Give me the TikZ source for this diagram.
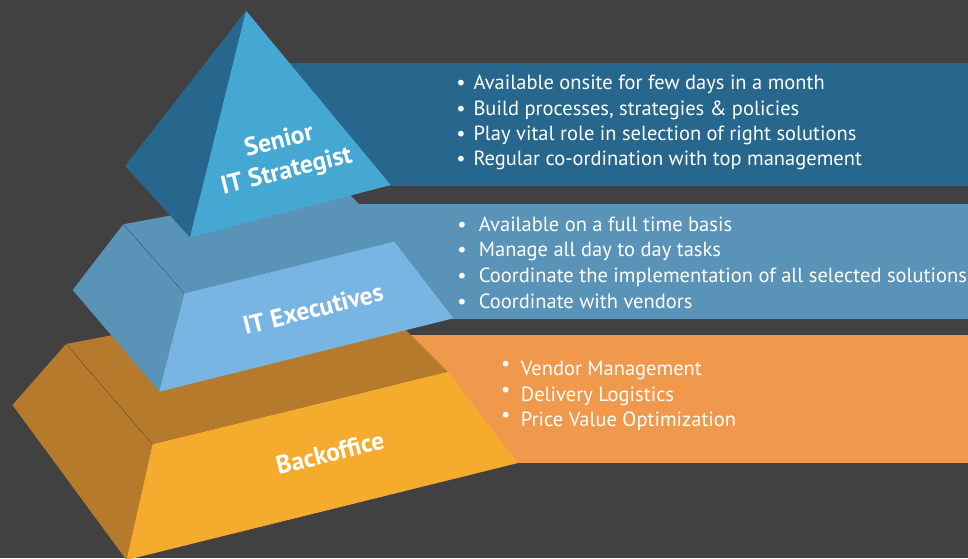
\documentclass[tikz,border=0pt]{standalone}
\usepackage{fontspec}
\setmainfont{PT Sans}
\definecolor{bg}{HTML}{414141}
\definecolor{dblue}{HTML}{27678D}
\definecolor{lblue}{HTML}{45A8D3}
\definecolor{mblue}{HTML}{5A93B8}
\definecolor{sblue}{HTML}{79B5E2}
\definecolor{brown}{HTML}{B57A2C}
\definecolor{yell}{HTML}{F5AC2E}
\definecolor{orng}{HTML}{F0994C}
\begin{document}
\begin{tikzpicture}[x=1pt,y=-1pt,
  lbl/.style={text=white,font=\fontsize{25.5}{31}\selectfont\bfseries,rotate=14,align=center,inner sep=0pt},
  item/.style={text=white,font=\fontsize{20.5}{25}\selectfont,anchor=base west,inner sep=0pt},
  dot/.style={text=white,font=\fontsize{20.5}{25}\selectfont,anchor=base,inner sep=0pt},
  ridge/.style={draw=black,draw opacity=0.35,line width=0.4pt}]
\useasboundingbox (0,0) rectangle (968,558);
\clip (0,0) rectangle (968,558);
\fill[bg] (0,0) rectangle (968,558);

% ---------- bottom tier ----------
\coordinate (bBL) at (66,344);
\coordinate (bBR) at (363,287);
\coordinate (bFR) at (448,372);
\coordinate (bFL) at (152.5,444.3);
\coordinate (bOut) at (12.5,405);
\coordinate (bBot) at (126.5,560);
\coordinate (bBotR) at (518,463);
\fill[orng] (380,335) rectangle (968,463);
\fill[brown] (bBL) -- (bBR) -- (bFR) -- (bFL) -- cycle;
\fill[brown] (bBL) -- (bOut) -- (bBot) -- (bFL) -- cycle;
\fill[yell] (bFL) -- (bBot) -- (bBotR) -- (bFR) -- cycle;
\draw[ridge] (bBL) -- (bFL);

% ---------- middle tier ----------
\coordinate (mBL) at (123.3,224.3);
\coordinate (mBR) at (340,184);
\coordinate (mFR) at (394.3,241.7);
\coordinate (mFL) at (184.3,293.3);
\coordinate (mOut) at (72.7,290);
\coordinate (mBot) at (159.3,391.7);
\coordinate (mBotR) at (453.3,318.3);
\fill[mblue] (300,203.5) rectangle (968,319.3);
\fill[mblue] (mBL) -- (mBR) -- (mFR) -- (mFL) -- cycle;
\fill[mblue] (mBL) -- (mOut) -- (mBot) -- (mFL) -- cycle;
\fill[sblue] (mFL) -- (mBot) -- (mBotR) -- (mFR) -- cycle;
\draw[ridge] (mBL) -- (mFL);

% ---------- top tier ----------
\coordinate (tApex) at (246,10.7);
\coordinate (tLeft) at (125,166);
\coordinate (tBot) at (190,237.3);
\coordinate (tRight) at (390.7,185);
\fill[dblue] (280,63.3) rectangle (968,185.5);
\fill[dblue] (tApex) -- (tLeft) -- (tBot) -- cycle;
\fill[lblue] (tApex) -- (tBot) -- (tRight) -- cycle;

% ---------- labels ----------
\node[lbl] (lTop) at (283,157) {Senior\\IT Strategist};
\node[lbl] (lMid) at (313,309) {IT Executives};
\node[lbl] (lBot) at (330,453) {Backoffice};

% ---------- top list ----------
\node[dot] (d1) at (461,89.3) {•};
\node[item] (t1) at (473.3,89.3) {Available onsite for few days in a month};
\node[dot] (d2) at (461,115) {•};
\node[item] (t2) at (473.3,115) {Build processes, strategies \& policies};
\node[dot] (d3) at (461,140.3) {•};
\node[item] (t3) at (473.3,140.3) {Play vital role in selection of right solutions};
\node[dot] (d4) at (461,165.7) {•};
\node[item] (t4) at (473.3,165.7) {Regular co-ordination with top management};

% ---------- middle list ----------
\node[dot] (e1) at (462,231.3) {•};
\node[item] (m1) at (478.7,231.3) {Available on a full time basis};
\node[dot] (e2) at (462,256.6) {•};
\node[item] (m2) at (478.7,256.6) {Manage all day to day tasks};
\node[dot] (e3) at (462,282.5) {•};
\node[item] (m3) at (478.7,282.5) {Coordinate the implementation of all selected solutions};
\node[dot] (e4) at (462,308.4) {•};
\node[item] (m4) at (478.7,308.4) {Coordinate with vendors};

% ---------- bottom list ----------
\node[dot] (f1) at (505.7,370.7) {•};
\node[item] (b1) at (520.7,375.7) {Vendor Management};
\node[dot] (f2) at (505.7,396.7) {•};
\node[item] (b2) at (520.7,401.7) {Delivery Logistics};
\node[dot] (f3) at (505.7,421.7) {•};
\node[item] (b3) at (520.7,426.7) {Price Value Optimization};
\end{tikzpicture}
\end{document}
